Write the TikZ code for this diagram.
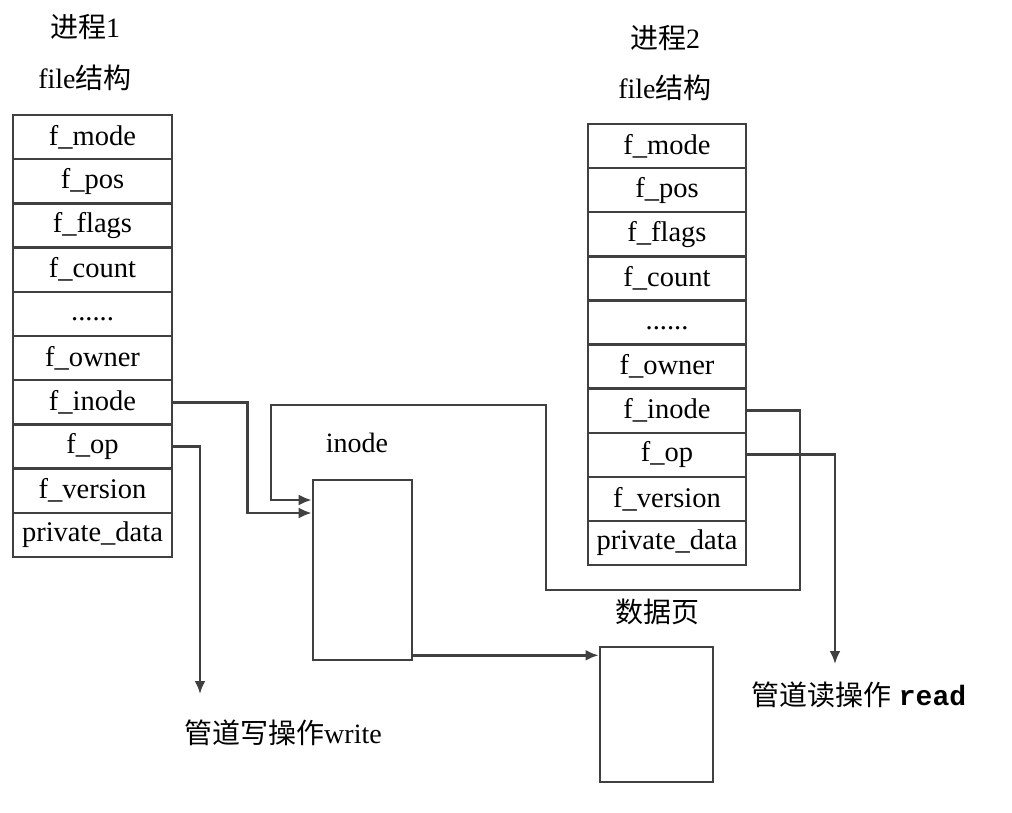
\documentclass[tikz,border=0pt]{standalone}
\usepackage{fontspec}
\setmainfont{Liberation Serif}
\newfontfamily\cjk{Noto Sans CJK SC}
\newfontfamily\monob{Liberation Mono}
\usetikzlibrary{arrows.meta}
\newcommand\rowdots{\raisebox{-7pt}[0pt][0pt]{......}}
\begin{document}
\begin{tikzpicture}[x=1pt,y=-1pt,
  line width=2.6pt,
  cell/.style={draw=black!75,line width=2.4pt,minimum height=44.2pt,inner sep=0pt,font=\fontsize{28.5}{28}\selectfont},
  cellA/.style={cell,minimum width=159pt},
  cellB/.style={cell,minimum width=158pt,minimum height=44.1pt},
  lbl/.style={font=\fontsize{28}{30}\selectfont,inner sep=0pt,anchor=center},
  conn/.style={draw=black!75,line width=2.6pt},
  arr/.style={conn,-{Latex[length=13pt,width=11pt]}},
  box/.style={draw=black!75,line width=2.6pt,inner sep=0pt}
]
\useasboundingbox[fill=white] (0,0) rectangle (1012,813);

% titles
\node[lbl] (t1) at (85,27) {{\cjk 进程}1};
\node[lbl] (s1) at (85,78) {file{\cjk 结构}};
\node[lbl] (t2) at (665,38) {{\cjk 进程}2};
\node[lbl] (s2) at (665,88) {file{\cjk 结构}};

% process 1 table
\foreach \n/\t [count=\i] in {mode/f\_mode,pos/f\_pos,flags/f\_flags,count/f\_count,dots/\rowdots,owner/f\_owner,inode/f\_inode,op/f\_op,version/f\_version,priv/private\_data}{
  \node[cellA] (a\n) at (92.5,{115+44.2*(\i-0.5)}) {\t};
}
% process 2 table
\foreach \n/\t [count=\i] in {mode/f\_mode,pos/f\_pos,flags/f\_flags,count/f\_count,dots/\rowdots,owner/f\_owner,inode/f\_inode,op/f\_op,version/f\_version,priv/private\_data}{
  \node[cellB] (b\n) at (667,{124+44.1*(\i-0.5)}) {\t};
}

% inode box
\node[box,minimum width=99pt,minimum height=180pt] (inodebox) at (362.5,570) {};
\node[lbl] (inodelbl) at (357,443) {inode};

% data page
\node[box,minimum width=113pt,minimum height=135pt] (page) at (656.5,714.5) {};
\node[lbl] (pagelbl) at (657,612) {\cjk 数据页};

% connectors
\draw[arr] (ainode.east) -- ++(74,0) |- ([yshift=57pt]inodebox.west);
\coordinate (wend) at (200,694);
\draw[arr] (aop.east) -| (wend);
\node[lbl] (wlbl) at (283,733) {{\cjk 管道写操作}write};

\draw[arr] (binode.east) -| (800,590) -| (546,405) -| (271,470) |- ([yshift=70pt]inodebox.west);
\coordinate (rend) at (835,664);
\draw[arr] (bop.east) -| (rend);
\node[lbl] (rlbl) at (859,695) {{\cjk 管道读操作} {\monob\bfseries read}};

\draw[arr] ([yshift=6pt]inodebox.south east) -- ([yshift=6pt]inodebox.south east -| page.west);
\end{tikzpicture}
\end{document}
